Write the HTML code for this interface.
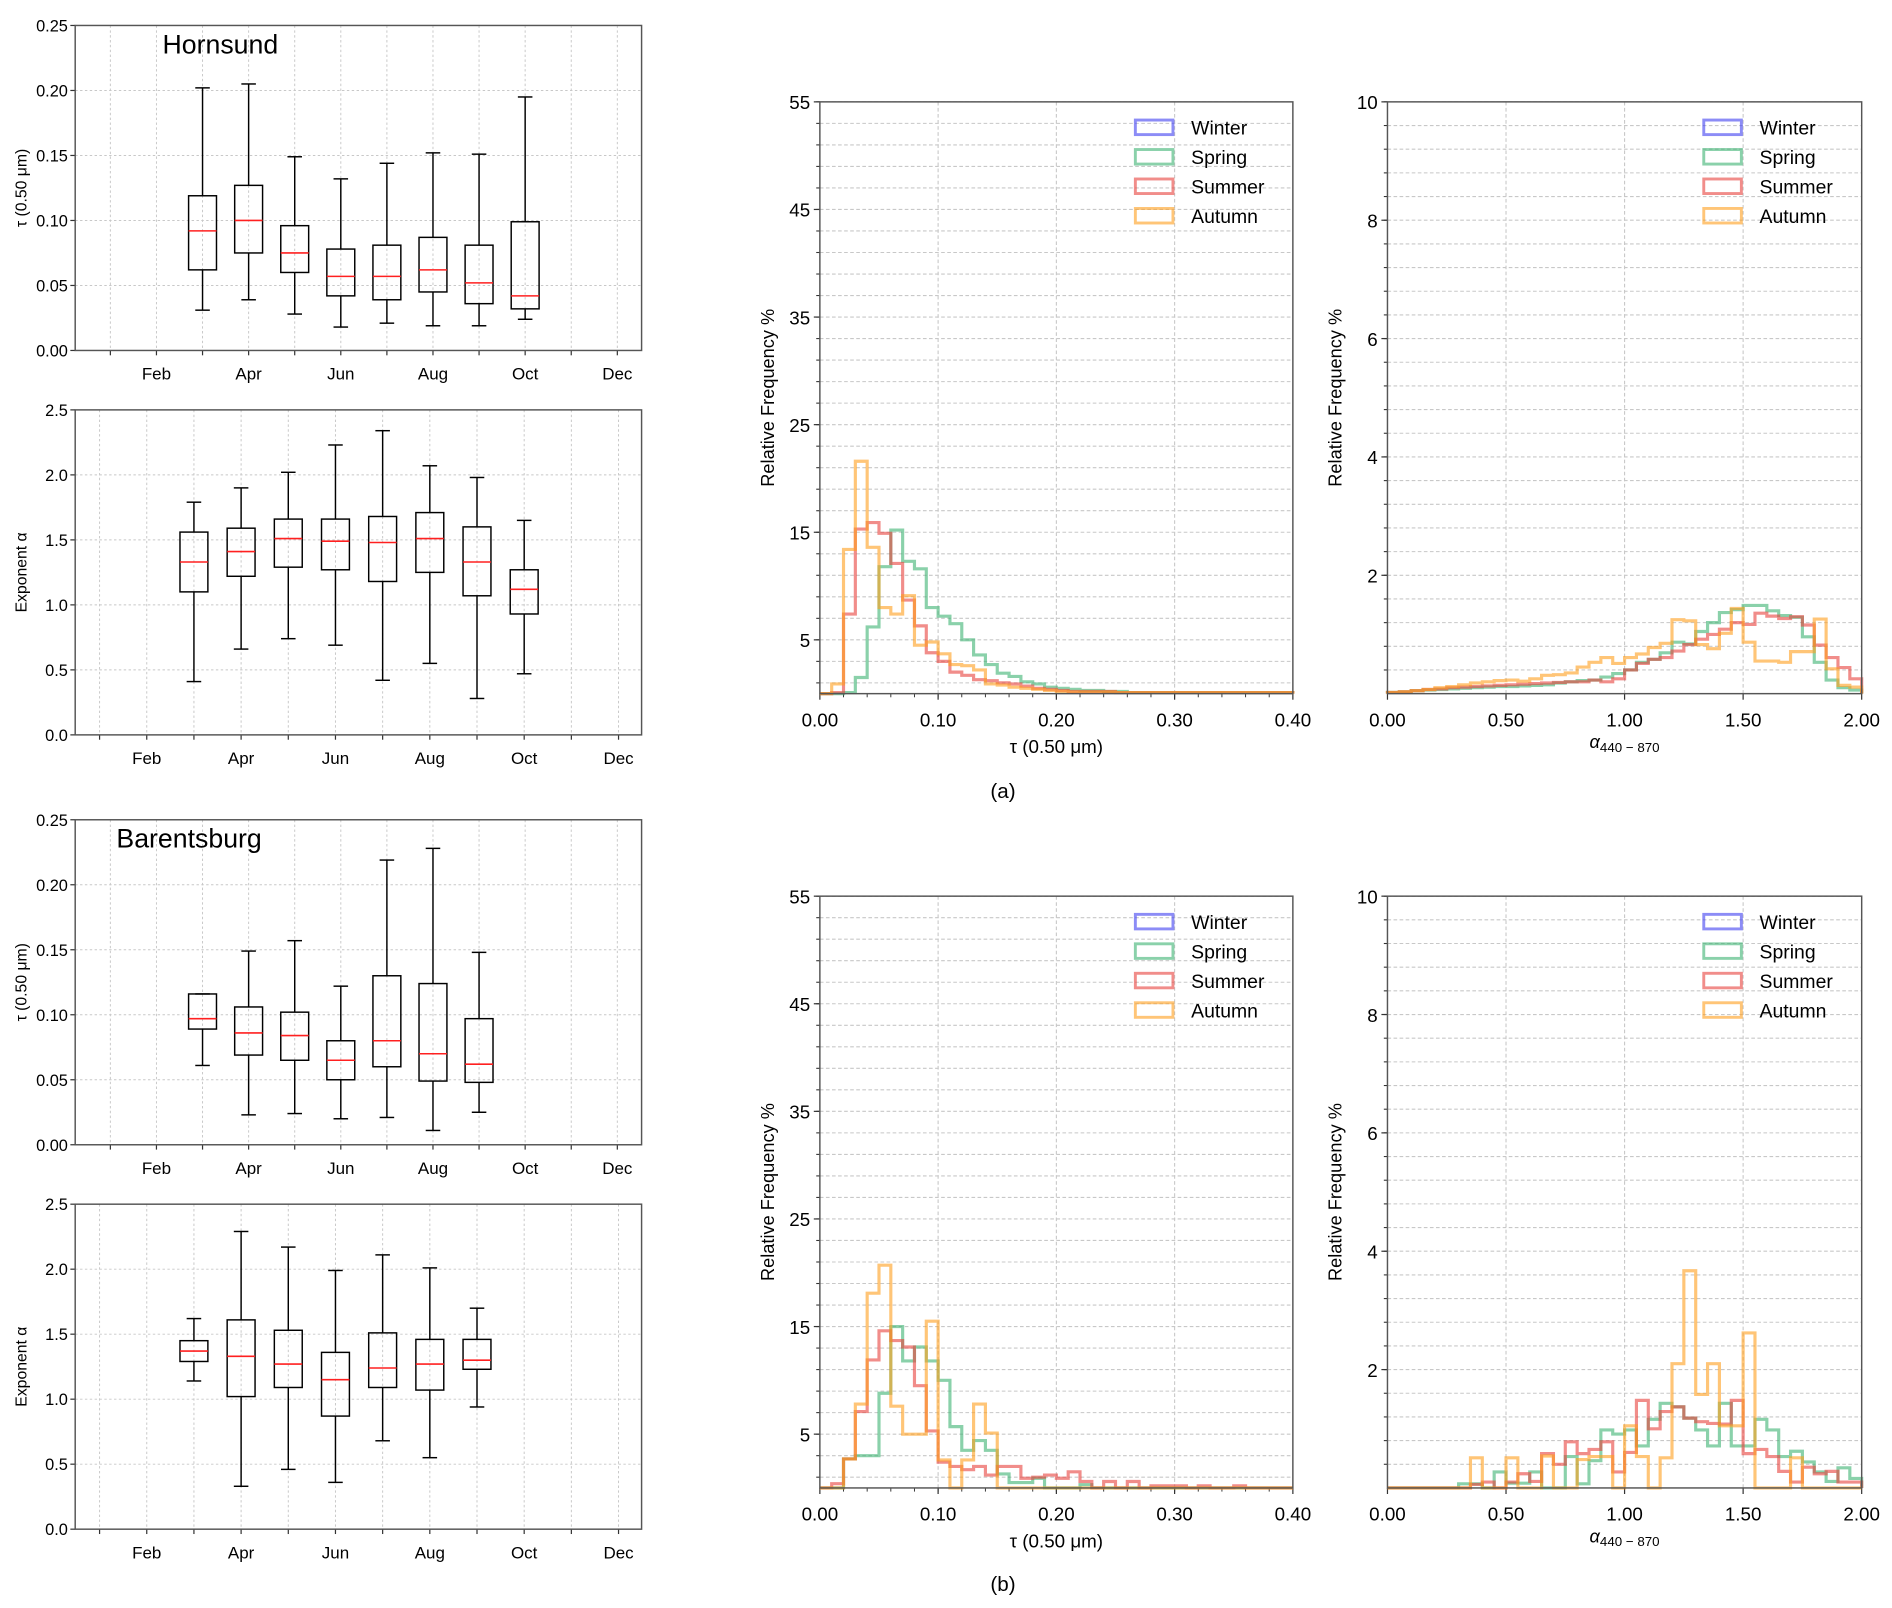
<!DOCTYPE html>
<html><head><meta charset="utf-8"><title>Hornsund and Barentsburg aerosol statistics</title>
<style>
html,body{margin:0;padding:0;background:#fff;}
svg{display:block;}
text{font-family:"Liberation Sans","DejaVu Sans",sans-serif;fill:#000;}
</style></head>
<body>
<svg id="fig" xmlns="http://www.w3.org/2000/svg" width="1892" height="1608" viewBox="0 0 1560 1326" preserveAspectRatio="none"></svg>
<script>
// ---------- data ----------
const monthLabels = ['Feb','Apr','Jun','Aug','Oct','Dec'];
const monthLabelIdx = [2,4,6,8,10,12];
// box stats: [low whisker, q1, median, q3, high whisker]
const hornTauMonths = [3,4,5,6,7,8,9,10];
const hornTauStats = [[.031,.062,.092,.119,.202],[.039,.075,.100,.127,.205],[.028,.060,.075,.096,.149],[.018,.042,.057,.078,.132],[.021,.039,.057,.081,.144],[.019,.045,.062,.087,.152],[.019,.036,.052,.081,.151],[.024,.032,.042,.099,.195]];
const hornAlphaMonths = [3,4,5,6,7,8,9,10];
const hornAlphaStats = [[.41,1.10,1.33,1.56,1.79],[.66,1.22,1.41,1.59,1.90],[.74,1.29,1.51,1.66,2.02],[.69,1.27,1.49,1.66,2.23],[.42,1.18,1.48,1.68,2.34],[.55,1.25,1.51,1.71,2.07],[.28,1.07,1.33,1.60,1.98],[.47,.93,1.12,1.27,1.65]];
const barTauMonths = [3,4,5,6,7,8,9];
const barTauStats = [[.061,.089,.097,.116,.116],[.023,.069,.086,.106,.149],[.024,.065,.084,.102,.157],[.020,.050,.065,.080,.122],[.021,.060,.080,.130,.219],[.011,.049,.070,.124,.228],[.025,.048,.062,.097,.148]];
const barAlphaMonths = [3,4,5,6,7,8,9];
const barAlphaStats = [[1.14,1.29,1.37,1.45,1.62],[.33,1.02,1.33,1.61,2.29],[.46,1.09,1.27,1.53,2.17],[.36,.87,1.15,1.36,1.99],[.68,1.09,1.24,1.51,2.11],[.55,1.07,1.27,1.46,2.01],[.94,1.23,1.30,1.46,1.70]];

// histograms (40 bins each)
const hTauSpringA = [0,0,0.1,1.5,6.2,11.8,15.2,12.3,11.6,8.0,7.2,6.5,5.0,3.6,2.7,1.9,1.6,1.1,0.9,0.6,0.5,0.4,0.3,0.3,0.2,0.2,0.1,0.1,0.1,0.1,0.1,0.1,0.1,0.1,0.1,0.1,0.1,0.1,0.1,0.1];
const hTauSummerA = [0,0.1,7.4,15.3,15.9,14.9,12.1,8.7,6.3,3.8,3.0,2.0,1.7,1.3,1.2,1.0,0.9,0.7,0.5,0.4,0.3,0.2,0.2,0.2,0.2,0.1,0.1,0.1,0.1,0.1,0.1,0.1,0.1,0.1,0.1,0.1,0.1,0.1,0.1,0.1];
const hTauAutumnA = [0,0.9,13.4,21.6,13.6,8.0,7.4,9.1,4.5,4.8,3.7,2.7,2.6,2.2,0.9,0.8,0.6,0.5,0.4,0.3,0.2,0.15,0.15,0.15,0.15,0.1,0.1,0.1,0.1,0.1,0.1,0.1,0.1,0.1,0.1,0.1,0.1,0.1,0.1,0.1];
const hAlpSpringA = [0.02,0.03,0.05,0.06,0.07,0.08,0.09,0.1,0.11,0.12,0.12,0.13,0.14,0.15,0.18,0.2,0.22,0.23,0.28,0.34,0.40,0.53,0.58,0.69,0.87,0.84,1.05,1.2,1.37,1.42,1.49,1.49,1.40,1.32,1.29,0.96,0.53,0.23,0.10,0.06];
const hAlpSummerA = [0.02,0.03,0.05,0.07,0.08,0.1,0.11,0.12,0.13,0.14,0.15,0.16,0.17,0.18,0.19,0.2,0.2,0.23,0.2,0.25,0.4,0.51,0.58,0.61,0.72,0.83,0.92,1.0,1.09,1.2,1.17,1.36,1.31,1.27,1.30,1.16,0.82,0.61,0.44,0.25];
const hAlpAutumnA = [0.02,0.03,0.05,0.07,0.1,0.12,0.15,0.18,0.2,0.22,0.23,0.21,0.25,0.31,0.32,0.35,0.45,0.53,0.61,0.51,0.61,0.67,0.78,0.85,1.25,1.23,0.83,0.76,1.02,1.44,0.87,0.55,0.55,0.53,0.71,0.71,1.26,0.42,0.14,0.11];
const hTauSpringB = [0,0,2.7,3.0,3.0,8.8,15.0,11.8,13.1,11.8,10.0,5.7,3.5,4.4,3.5,1.3,0.5,0.5,0.9,0,0,0,0.3,0,0,0,0,0,0,0,0,0,0,0,0,0,0,0,0,0];
const hTauSummerB = [0,0.4,2.7,7.1,11.9,14.6,13.7,13.1,9.5,5.3,2.4,2.0,1.7,2.0,1.2,2.0,2.0,0.9,1.0,1.2,0.9,1.5,0.6,0,0.6,0,0.6,0,0.2,0.2,0.2,0,0.2,0,0,0.2,0,0,0,0];
const hTauAutumnB = [0,0,2.7,7.8,18.1,20.7,7.6,5.0,5.0,15.5,2.6,0,2.6,7.8,5.1,0,0,0,0,0,0,0,0,0,0,0,0,0,0,0,0,0,0,0,0,0,0,0,0,0];
const hAlpSpringB = [0,0,0,0,0,0,0.07,0.07,0,0.27,0.08,0.08,0.27,0,0,0.53,0.07,0.46,0.98,0.91,0.98,0.71,1.16,1.43,1.37,1.18,0.98,0.71,1.43,0.71,0.71,1.16,0.98,0.53,0.62,0.44,0.27,0.11,0.34,0.16];
const hAlpSummerB = [0,0,0,0,0,0,0,0.06,0.1,0,0.1,0.24,0.11,0.58,0.4,0.78,0.58,0.65,0.78,0.27,0.6,1.48,1.0,1.29,1.37,1.18,1.12,1.09,1.08,1.48,0.58,0.65,0.53,0.28,0.1,0.35,0.24,0.28,0.1,0.1];
const hAlpAutumnB = [0,0,0,0,0,0,0,0.51,0,0,0.51,0,0,0.54,0,0,0.48,0.53,0.53,0,1.05,0.53,0,0.51,2.1,3.67,1.58,2.1,1.05,1.05,2.62,0,0,0,0.51,0,0,0,0,0];
const seasonNames = ['Winter','Spring','Summer','Autumn'];

// ---------- helpers ----------
const NS = 'http://www.w3.org/2000/svg';
const svg = document.getElementById('fig');
function mk(tag, attrs, parent){
  const e = document.createElementNS(NS, tag);
  for (const k in attrs) e.setAttribute(k, attrs[k]);
  (parent || svg).appendChild(e);
  return e;
}
function txt(s, x, y, size, anchor, parent){
  const t = mk('text', {x:x, y:y, 'font-size':size, 'text-anchor':anchor||'middle'}, parent);
  t.textContent = s;
  return t;
}
const SEASON_COL = {Winter:'#4040f0', Spring:'#3cb371', Summer:'#e8413c', Autumn:'#ff9f1c'};

// ---------- boxplot panel ----------
function boxPanel(name, top, bottom, xOff, xStep, ymax, ystep, ydec, ylabel, months, stats, title){
  const L = 62, R = 529;
  const g = mk('g', {});
  
  
  const xS = m => xOff + xStep*m;
  const yS = v => bottom - (v/ymax)*(bottom-top);
  for (let m=1; m<=12; m++){
    const gl = mk('line', {x1:xS(m), x2:xS(m), y1:top, y2:bottom, stroke:'#c8c8c8', 'stroke-width':0.8, 'stroke-dasharray':'2,2'}, g);
    
    
    mk('line', {x1:xS(m), x2:xS(m), y1:bottom, y2:bottom+4, stroke:'#333', 'stroke-width':1}, g);
  }
  for (let v=0; v<=ymax+1e-9; v+=ystep){
    const y = yS(v);
    if (v>0 && v<ymax-1e-9) mk('line', {x1:L, x2:R, y1:y, y2:y, stroke:'#c8c8c8', 'stroke-width':0.8, 'stroke-dasharray':'2,2'}, g);
    mk('line', {x1:L-4, x2:L, y1:y, y2:y, stroke:'#333', 'stroke-width':1}, g);
    const t = txt(v.toFixed(ydec), L-6, y+5, 13.5, 'end', g);
    
    
  }
  monthLabels.forEach((s,i)=>{
    const t = txt(s, xS(monthLabelIdx[i]), bottom+24, 14, 'middle', g);
    
    
  });
  const fr = mk('rect', {x:L, y:top, width:R-L, height:bottom-top, fill:'none', stroke:'#555', 'stroke-width':1.2}, g);
  
  
  const yl = txt(ylabel, 0, 0, 13, 'middle', g);
  yl.setAttribute('transform', 'translate(22,'+((top+bottom)/2)+') rotate(-90)');
  
  
  if (title){
    const tt = txt(title.s, title.x, title.y, 22, 'start', g);
    
    
  }
  const bw = 23, cw = 12;
  months.forEach((m,i)=>{
    const s = stats[i], cx = xS(m);
    const bg = mk('g', {}, g);
    
    
    mk('line', {x1:cx, x2:cx, y1:yS(s[0]), y2:yS(s[1]), stroke:'#000', 'stroke-width':1.2}, bg);
    mk('line', {x1:cx, x2:cx, y1:yS(s[3]), y2:yS(s[4]), stroke:'#000', 'stroke-width':1.2}, bg);
    mk('line', {x1:cx-cw/2, x2:cx+cw/2, y1:yS(s[0]), y2:yS(s[0]), stroke:'#000', 'stroke-width':1.2}, bg);
    mk('line', {x1:cx-cw/2, x2:cx+cw/2, y1:yS(s[4]), y2:yS(s[4]), stroke:'#000', 'stroke-width':1.2}, bg);
    mk('rect', {x:cx-bw/2, y:yS(s[3]), width:bw, height:yS(s[1])-yS(s[3]), fill:'none', stroke:'#000', 'stroke-width':1.2}, bg);
    mk('line', {x1:cx-bw/2, x2:cx+bw/2, y1:yS(s[2]), y2:yS(s[2]), stroke:'#ff2020', 'stroke-width':1.3}, bg);
  });
}

// ---------- histogram panel ----------
function histPanel(name, L, R, top, bottom, xmax, ymax, xticks, xdec, yLabelTicks, gridStep, gridStart, xMinorStep, series, xlabelKind, xlabelY){
  const g = mk('g', {});
  
  
  const xS = v => L + (v/xmax)*(R-L);
  const yS = v => bottom - (v/ymax)*(bottom-top);
  for (let v=gridStart; v<=ymax+1e-9; v+=gridStep){
    mk('line', {x1:L, x2:R, y1:yS(v), y2:yS(v), stroke:'#c8c8c8', 'stroke-width':0.9, 'stroke-dasharray':'3,2'}, g);
    mk('line', {x1:L-3, x2:L, y1:yS(v), y2:yS(v), stroke:'#333', 'stroke-width':0.9}, g);
  }
  yLabelTicks.forEach(v=>{
    mk('line', {x1:L-5, x2:L, y1:yS(v), y2:yS(v), stroke:'#333', 'stroke-width':1}, g);
    const t = txt(String(v), L-8, yS(v)+6, 15.5, 'end', g);
    
    
  });
  xticks.forEach(v=>{
    if (v>0 && v<xmax) mk('line', {x1:xS(v), x2:xS(v), y1:top, y2:bottom, stroke:'#c8c8c8', 'stroke-width':0.9, 'stroke-dasharray':'3,2'}, g);
    mk('line', {x1:xS(v), x2:xS(v), y1:bottom, y2:bottom+5, stroke:'#333', 'stroke-width':1}, g);
    const t = txt(v.toFixed(xdec), xS(v), bottom+27, 15.5, 'middle', g);
    
    
  });
  if (xMinorStep) for (let v=xMinorStep; v<xmax; v+=xMinorStep)
    mk('line', {x1:xS(v), x2:xS(v), y1:bottom, y2:bottom+3, stroke:'#333', 'stroke-width':0.8}, g);
  const nb = 40, bwv = xmax/nb;
  series.forEach(sr=>{
    let d = 'M'+xS(0)+','+yS(0);
    sr.vals.forEach((v,i)=>{ d += ' L'+xS(i*bwv)+','+yS(v)+' L'+xS((i+1)*bwv)+','+yS(v); });
    d += ' L'+xS(xmax)+','+yS(0);
    const p = mk('path', {d:d, fill:'none', stroke:SEASON_COL[sr.s], 'stroke-width':2.6, 'stroke-opacity':0.6, 'stroke-linejoin':'miter'}, g);
    
    
  });
  const fr = mk('rect', {x:L, y:top, width:R-L, height:bottom-top, fill:'none', stroke:'#555', 'stroke-width':1.2}, g);
  
  
  const yl = txt('Relative Frequency %', 0, 0, 15, 'middle', g);
  yl.setAttribute('transform', 'translate('+(L-38)+','+((top+bottom)/2)+') rotate(-90)');
  
  
  let xl;
  if (xlabelKind === 'tau'){
    xl = txt('τ (0.50 μm)', (L+R)/2, xlabelY, 15.5, 'middle', g);
  } else {
    xl = mk('text', {x:(L+R)/2, y:xlabelY, 'font-size':15, 'text-anchor':'middle'}, g);
    const a = mk('tspan', {'font-style':'italic'}, xl); a.textContent = 'α';
    const b = mk('tspan', {'font-size':11, dy:3}, xl); b.textContent = '440 − 870';
  }
  
  
  const lx = L + (R-L)*0.667, ly = top + 21;
  seasonNames.forEach((s,i)=>{
    const lg = mk('g', {}, g);
    
    
    mk('rect', {x:lx, y:ly+i*24.3-6, width:31, height:12, fill:'none', stroke:SEASON_COL[s], 'stroke-width':2.4, 'stroke-opacity':0.6}, lg);
    txt(s, lx+46, ly+i*24.3+6, 16, 'start', lg);
  });
}

// ---------- build ----------
boxPanel('hornsund-tau-boxplot', 21, 289, 53, 38, 0.25, 0.05, 2, 'τ (0.50 μm)', hornTauMonths, hornTauStats, {s:'Hornsund', x:134, y:44});
boxPanel('hornsund-alpha-boxplot', 338, 606, 43.2, 38.9, 2.5, 0.5, 1, 'Exponent α', hornAlphaMonths, hornAlphaStats, null);
boxPanel('barentsburg-tau-boxplot', 676, 944, 53, 38, 0.25, 0.05, 2, 'τ (0.50 μm)', barTauMonths, barTauStats, {s:'Barentsburg', x:96, y:699});
boxPanel('barentsburg-alpha-boxplot', 993, 1261, 43.2, 38.9, 2.5, 0.5, 1, 'Exponent α', barAlphaMonths, barAlphaStats, null);

histPanel('hornsund-tau-histogram', 676, 1066, 84, 572, 0.40, 55, [0,0.1,0.2,0.3,0.4], 2, [5,15,25,35,45,55], 2, 1, 0.02,
  [{s:'Spring', vals:hTauSpringA},{s:'Summer', vals:hTauSummerA},{s:'Autumn', vals:hTauAutumnA}], 'tau', 621);
histPanel('hornsund-alpha-histogram', 1144, 1535, 84, 572, 2.0, 10, [0,0.5,1.0,1.5,2.0], 2, [2,4,6,8,10], 0.4, 0.4, 0,
  [{s:'Spring', vals:hAlpSpringA},{s:'Summer', vals:hAlpSummerA},{s:'Autumn', vals:hAlpAutumnA}], 'alpha', 617);
histPanel('barentsburg-tau-histogram', 676, 1066, 739, 1227, 0.40, 55, [0,0.1,0.2,0.3,0.4], 2, [5,15,25,35,45,55], 2, 1, 0.02,
  [{s:'Spring', vals:hTauSpringB},{s:'Summer', vals:hTauSummerB},{s:'Autumn', vals:hTauAutumnB}], 'tau', 1276);
histPanel('barentsburg-alpha-histogram', 1144, 1535, 739, 1227, 2.0, 10, [0,0.5,1.0,1.5,2.0], 2, [2,4,6,8,10], 0.4, 0.4, 0,
  [{s:'Spring', vals:hAlpSpringB},{s:'Summer', vals:hAlpSummerB},{s:'Autumn', vals:hAlpAutumnB}], 'alpha', 1272);

const ca = txt('(a)', 827, 658, 17, 'middle');


const cb = txt('(b)', 827, 1312, 17, 'middle');


</script>
</body></html>
